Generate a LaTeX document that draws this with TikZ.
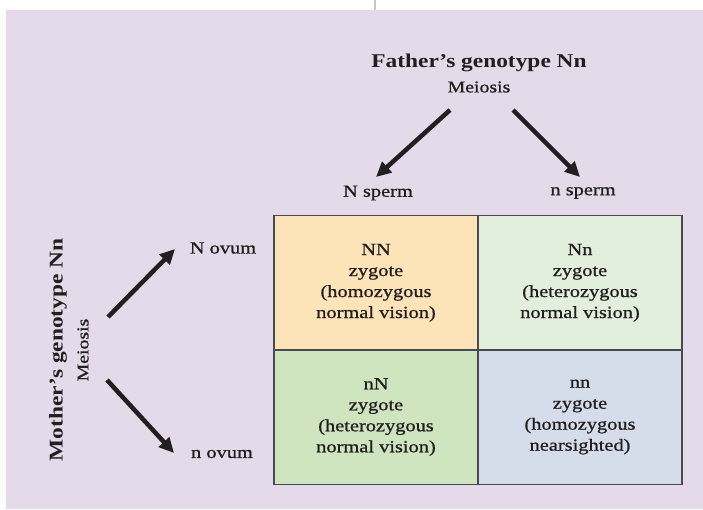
\documentclass[tikz,border=0pt]{standalone}
\usepackage{fontspec}
\setmainfont[FakeStretch=1.2]{Liberation Serif}
\newfontfamily\semib[FakeStretch=1.2,FakeBold=0.9]{Liberation Serif}
\usetikzlibrary{arrows.meta}
\definecolor{bgl}{HTML}{E4DAE9}
\definecolor{cNN}{HTML}{FDE3B8}
\definecolor{cNn}{HTML}{E3EFDD}
\definecolor{cnN}{HTML}{CEE5BF}
\definecolor{cnn}{HTML}{D4DDE9}
\definecolor{edge}{HTML}{4A4A52}
\definecolor{ink}{HTML}{231F20}
\begin{document}
\begin{tikzpicture}[x=1pt,y=-1pt,
  title/.style={font=\fontsize{19.5}{22}\selectfont\bfseries, text=ink, inner sep=0pt},
  sub/.style={font=\semib\fontsize{16.5}{20}\selectfont, text=ink, inner sep=0pt},
  lab/.style={font=\semib\fontsize{17}{21}\selectfont, text=ink, inner sep=0pt},
  cell/.style={draw=edge, line width=1.5pt, align=center, text=ink,
    font=\semib\fontsize{17}{21}\selectfont, minimum width=204pt, minimum height=134.5pt, inner sep=0pt},
  bigarrow/.style={draw=ink, line width=4.5pt, -{Triangle[length=15pt,width=14pt]}}
]
\useasboundingbox (0,0) rectangle (703,509);
\fill[white] (0,0) rectangle (703,509);
\fill[bgl] (6,10) rectangle (703,509);
\draw[black!22, line width=2pt] (375,0) -- (375,10);

% Punnett square
\node[cell, fill=cNN] (NN) at (376,282.75) {NN\\zygote\\(homozygous\\normal vision)};
\node[cell, fill=cNn] (Nn) at (580,282.75) {Nn\\zygote\\(heterozygous\\normal vision)};
\node[cell, fill=cnN] (nN) at (376,417) {nN\\zygote\\(heterozygous\\normal vision)};
\node[cell, fill=cnn] (nn) at (580,417) {nn\\zygote\\(homozygous\\nearsighted)};

% Father
\node[title] (father) at (479,63) {Father’s genotype Nn};
\node[sub] (fmei) at (479,87) {Meiosis};
\node[lab] (Nsp) at (378,193) {N sperm};
\node[lab] (nsp) at (583,193) {n sperm};
\coordinate (fa1s) at (450,110);
\coordinate (fa1e) at (376,177);
\coordinate (fa2s) at (513,110);
\coordinate (fa2e) at (580,177);
\draw[bigarrow] (fa1s) -- (fa1e);
\draw[bigarrow] (fa2s) -- (fa2e);

% Mother
\node[title, rotate=90] (mother) at (58,350) {Mother’s genotype Nn};
\node[sub, rotate=90] (mmei) at (83,350) {Meiosis};
\node[lab] (Nov) at (223,248) {N ovum};
\node[lab] (nov) at (222,454) {n ovum};
\coordinate (ma1s) at (108,317);
\coordinate (ma1e) at (175,249);
\coordinate (ma2s) at (107,380);
\coordinate (ma2e) at (174,453);
\draw[bigarrow] (ma1s) -- (ma1e);
\draw[bigarrow] (ma2s) -- (ma2e);
\end{tikzpicture}
\end{document}
